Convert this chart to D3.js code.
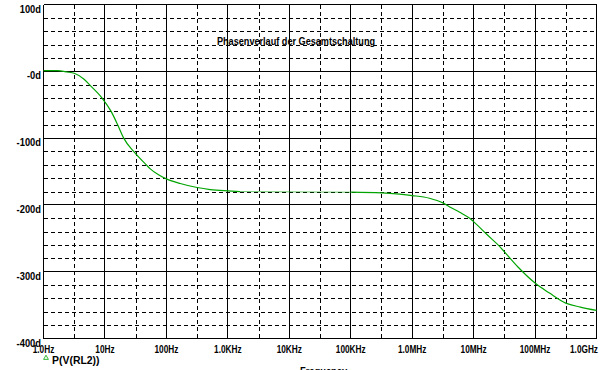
<!DOCTYPE html>
<html><head><meta charset="utf-8">
<script src="https://cdn.jsdelivr.net/npm/d3@7"></script>
<style>
html,body{margin:0;padding:0;background:#fff;}
svg{display:block;}
text{font-family:"Liberation Sans",Arial,sans-serif;font-weight:bold;fill:#000;}
</style></head>
<body>
<svg id="chart" width="604" height="370"></svg>
<script>
// ---- data ----
const freqHz = [1, 1.67, 2.43, 3.16, 4.52, 5.59, 8.98, 12.6, 16.1, 20.2, 29.3, 47.1, 54.7, 74.6, 100, 168, 316, 516, 1000, 1585,
  1e5, 3.16e5, 6.3e5, 1e6, 1.91e6, 3.16e6, 4.09e6, 5.94e6, 8.63e6, 1e7, 1.63e7, 2.83e7, 3.16e7, 5.27e7, 1e8, 1.72e8, 3.16e8, 5.46e8, 1e9];
const phaseDeg = [1, 1, -1, -3, -11.5, -20, -40, -60, -80, -100, -120, -140, -146, -155, -161, -168, -174, -177, -179, -180,
  -181, -182, -184, -186, -190, -197, -203, -211, -220, -225, -244, -265, -270, -293, -317, -332, -347, -353, -358];
const xTickValues = [1, 10, 100, 1e3, 1e4, 1e5, 1e6, 1e7, 1e8, 1e9];
const xTickLabels = ["1.0Hz", "10Hz", "100Hz", "1.0KHz", "10KHz", "100KHz", "1.0MHz", "10MHz", "100MHz", "1.0GHz"];
const yTickValues = [100, 0, -100, -200, -300, -400];
const yTickLabels = ["100d", "-0d", "-100d", "-200d", "-300d", "-400d"];
const titleText = "Phasenverlauf der Gesamtschaltung";
const legendText = "P(V(RL2))";
const xAxisTitle = "Frequency";

// ---- layout ----
const L = 43.5, R = 596.5, T = 4.5, B = 338.5;
const svg = d3.select("#chart");
const x = d3.scaleLog().domain([1, 1e9]).range([L, R]);
const y = d3.scaleLinear().domain([-400, 100]).range([B, T]);
const green = "#00a400";

const grid = svg.append("g").attr("shape-rendering", "crispEdges");
const yMinor = d3.range(-380, 100, 20).filter(v => v % 100 !== 0);
grid.selectAll(".hm").data(yMinor).join("line")
  .attr("x1", L).attr("x2", R).attr("y1", d => Math.round(y(d)) + 0.5).attr("y2", d => Math.round(y(d)) + 0.5)
  .attr("stroke", "#000").attr("stroke-dasharray", "4,3");
const xMinor = xTickValues.slice(0, -1).map(v => v * Math.sqrt(10));
grid.selectAll(".vm").data(xMinor).join("line")
  .attr("y1", T).attr("y2", B).attr("x1", d => Math.round(x(d)) + 0.5).attr("x2", d => Math.round(x(d)) + 0.5)
  .attr("stroke", "#000").attr("stroke-dasharray", "4,3");
grid.selectAll(".hM").data(yTickValues).join("line")
  .attr("x1", L).attr("x2", R).attr("y1", d => Math.round(y(d) - 0.5) + 0.5).attr("y2", d => Math.round(y(d) - 0.5) + 0.5)
  .attr("stroke", "#000");
grid.selectAll(".vM").data(xTickValues).join("line")
  .attr("y1", T).attr("y2", B).attr("x1", d => Math.round(x(d) - 0.5) + 0.5).attr("x2", d => Math.round(x(d) - 0.5) + 0.5)
  .attr("stroke", "#000");

// curve: split into measured segments; a wide frequency gap is drawn as a thin connector
const pts = freqHz.map((f, i) => [f, phaseDeg[i]]);
const segs = [[pts[0]]];
const gaps = [];
for (let i = 1; i < pts.length; i++) {
  if (pts[i][0] / pts[i - 1][0] > 20) { gaps.push([pts[i - 1], pts[i]]); segs.push([pts[i]]); }
  else segs[segs.length - 1].push(pts[i]);
}
const line = d3.line().x(d => x(d[0])).y(d => y(d[1])).curve(d3.curveMonotoneX);
svg.selectAll(".gap").data(gaps).join("path")
  .attr("fill", "none").attr("stroke", green).attr("stroke-opacity", 0.55).attr("stroke-width", 1)
  .attr("d", d3.line().x(d => x(d[0])).y(d => y(d[1])));
svg.selectAll(".seg").data(segs).join("path")
  .attr("fill", "none").attr("stroke", green).attr("stroke-width", 1.2)
  .attr("d", line);

// y labels
svg.selectAll(".yl").data(yTickValues).join("text")
  .attr("transform", d => `translate(41,${y(d) + 8}) scale(0.85,1)`)
  .attr("text-anchor", "end").attr("font-size", 11)
  .text((d, i) => yTickLabels[i]);
// x labels
const nX = xTickValues.length;
svg.selectAll(".xl").data(xTickValues).join("text")
  .attr("transform", (d, i) => `translate(${i === nX - 1 ? 598 : x(d)},353) scale(0.75,1)`)
  .attr("text-anchor", (d, i) => i === nX - 1 ? "end" : "middle").attr("font-size", 11)
  .text((d, i) => xTickLabels[i]);

// title
svg.append("text").attr("transform", `translate(296,45) scale(0.83,1)`)
  .attr("text-anchor", "middle").attr("font-size", 11).text(titleText);

// legend
svg.append("path").attr("d", d3.symbol(d3.symbolTriangle, 10)())
  .attr("transform", "translate(46,358)").attr("fill", "none").attr("stroke", green).attr("stroke-width", 0.8);
svg.append("text").attr("transform", `translate(52,364) scale(0.95,1)`)
  .attr("font-size", 11).text(legendText);

// x axis title
svg.append("text").attr("transform", `translate(300,375) scale(0.85,1)`)
  .attr("font-size", 11).text(xAxisTitle);
</script>
</body></html>
